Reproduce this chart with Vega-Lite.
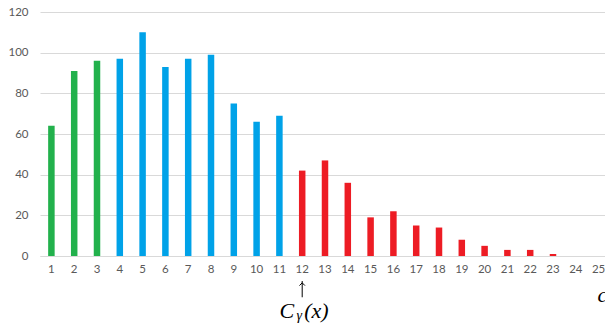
{
  "$schema": "https://vega.github.io/schema/vega-lite/v6.json",
  "autosize": "none",
  "padding": {"left": 40, "top": 12, "right": 0, "bottom": 69},
  "width": 570,
  "height": 244,
  "background": "white",
  "config": {"view": {"stroke": null}, "font": "Lato"},
  "layer": [
    {
      "data": {"values": [
        {"c": 1, "v": 64, "g": "a"}, {"c": 2, "v": 91, "g": "a"}, {"c": 3, "v": 96, "g": "a"},
        {"c": 4, "v": 97, "g": "b"}, {"c": 5, "v": 110, "g": "b"}, {"c": 6, "v": 93, "g": "b"},
        {"c": 7, "v": 97, "g": "b"}, {"c": 8, "v": 99, "g": "b"}, {"c": 9, "v": 75, "g": "b"},
        {"c": 10, "v": 66, "g": "b"}, {"c": 11, "v": 69, "g": "b"},
        {"c": 12, "v": 42, "g": "c"}, {"c": 13, "v": 47, "g": "c"}, {"c": 14, "v": 36, "g": "c"},
        {"c": 15, "v": 19, "g": "c"}, {"c": 16, "v": 22, "g": "c"}, {"c": 17, "v": 15, "g": "c"},
        {"c": 18, "v": 14, "g": "c"}, {"c": 19, "v": 8, "g": "c"}, {"c": 20, "v": 5, "g": "c"},
        {"c": 21, "v": 3, "g": "c"}, {"c": 22, "v": 3, "g": "c"}, {"c": 23, "v": 1, "g": "c"},
        {"c": 24, "v": 0, "g": "c"}, {"c": 25, "v": 0, "g": "c"}
      ]},
      "mark": {"type": "bar"},
      "encoding": {
        "x": {
          "field": "c", "type": "ordinal",
          "scale": {"paddingInner": 0.715, "paddingOuter": 0.3575},
          "axis": {
            "title": "c", "titleFont": "Liberation Serif", "titleFontStyle": "italic", "titleFontWeight": "normal",
            "titleFontSize": 22, "titleColor": "black", "titleX": 557, "titleY": 38, "titleAlign": "left", "titleBaseline": "middle",
            "labelAngle": 0, "labelColor": "#595959", "labelFontSize": 11.5, "labelPadding": 7,
            "ticks": false, "domainColor": "#d9d9d9", "grid": false
          }
        },
        "y": {
          "field": "v", "type": "quantitative",
          "scale": {"domain": [0, 120]},
          "axis": {
            "title": null, "values": [0, 20, 40, 60, 80, 100, 120], "labelColor": "#595959", "labelFontSize": 11.5,
            "labelPadding": 12, "ticks": false, "domain": false, "gridColor": "#d9d9d9"
          }
        },
        "color": {
          "field": "g", "type": "nominal",
          "scale": {"domain": ["a", "b", "c"], "range": ["#22b14c", "#00a2e8", "#ed1c24"]},
          "legend": null
        }
      }
    },
    {
      "data": {"values": [{"c": 12, "v": -12.3, "v2": -20.3}]},
      "mark": {"type": "rule", "color": "black", "strokeWidth": 1, "clip": false},
      "encoding": {"x": {"field": "c", "type": "ordinal"}, "y": {"field": "v", "type": "quantitative"}, "y2": {"field": "v2"}}
    },
    {
      "data": {"values": [{"c": 12, "v": -13.2}]},
      "mark": {"type": "point", "shape": "M-1,1L0,0L1,1", "size": 30, "filled": false, "color": "black", "strokeWidth": 1, "opacity": 1},
      "encoding": {"x": {"field": "c", "type": "ordinal"}, "y": {"field": "v", "type": "quantitative"}}
    },
    {
      "data": {"values": [{"c": 12, "v": -27, "t": "C"}]},
      "mark": {"type": "text", "font": "Liberation Serif", "fontStyle": "italic", "fontSize": 22, "color": "black", "baseline": "middle", "align": "right", "dx": -8},
      "encoding": {"x": {"field": "c", "type": "ordinal"}, "y": {"field": "v", "type": "quantitative"}, "text": {"field": "t"}}
    },
    {
      "data": {"values": [{"c": 12, "v": -27, "t": "γ"}]},
      "mark": {"type": "text", "font": "Liberation Serif", "fontStyle": "italic", "fontSize": 14, "color": "black", "baseline": "middle", "align": "center", "dx": -3, "dy": 5},
      "encoding": {"x": {"field": "c", "type": "ordinal"}, "y": {"field": "v", "type": "quantitative"}, "text": {"field": "t"}}
    },
    {
      "data": {"values": [{"c": 12, "v": -27, "t": "(x)"}]},
      "mark": {"type": "text", "font": "Liberation Serif", "fontStyle": "italic", "fontSize": 22, "color": "black", "baseline": "middle", "align": "left", "dx": 2},
      "encoding": {"x": {"field": "c", "type": "ordinal"}, "y": {"field": "v", "type": "quantitative"}, "text": {"field": "t"}}
    }
  ]
}
